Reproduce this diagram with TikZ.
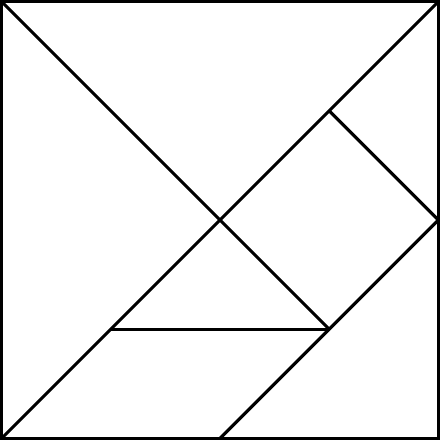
\documentclass[tikz,border=0pt]{standalone}
\usetikzlibrary{positioning}

\begin{document}
\begin{tikzpicture}[x=1cm,y=1cm,piece/.style={line width=0.8pt,line join=miter}]
  \useasboundingbox (-0.015,-0.015) rectangle (4.015,4.015);
  \coordinate (bl) at (0,0);
  \coordinate (br) at (4,0);
  \coordinate (tr) at (4,4);
  \coordinate (tl) at (0,4);
  \coordinate (mid) at (2,2);
  \coordinate (up) at (3,3);
  \coordinate (right) at (4,2);
  \coordinate (low) at (3,1);
  \coordinate (left) at (1,1);
  \coordinate (foot) at (2,0);

  \draw[piece] (bl) rectangle (tr);
  \draw[piece] (bl) -- (tr);
  \draw[piece] (tl) -- (low);
  \draw[piece] (up) -- (right) -- (foot);
  \draw[piece] (left) -- (low);
\end{tikzpicture}
\end{document}
